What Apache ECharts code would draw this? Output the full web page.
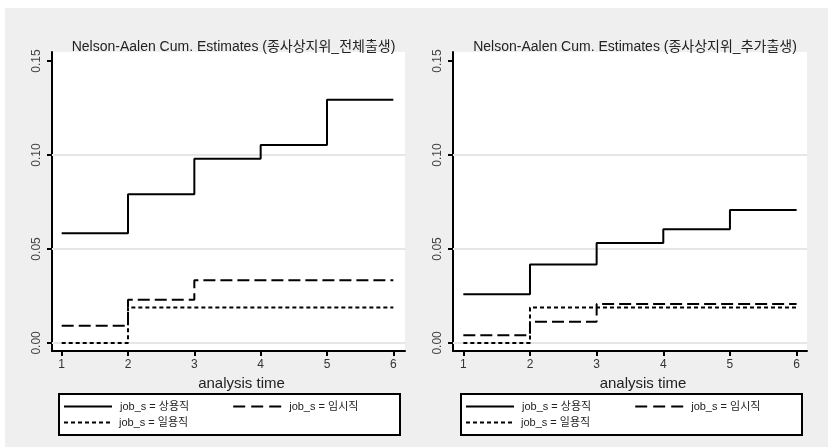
<!DOCTYPE html>
<html>
<head>
<meta charset="utf-8">
<script src="https://cdn.jsdelivr.net/npm/echarts@6/dist/echarts.min.js"></script>
<style>html,body{margin:0;padding:0;background:#fff}#c{width:828px;height:447px}</style>
</head>
<body>
<div id="c"></div>
<script>
// ---- data ----
const times = [1, 2, 3, 4, 5, 6];
const xTicks = [1, 2, 3, 4, 5, 6];
const yTicks = [0, 0.05, 0.10, 0.15];
const gridValues = [0, 0.05, 0.10];
const seriesNames = ['job_s = 상용직', 'job_s = 임시직', 'job_s = 일용직'];
const titles = ['Nelson-Aalen Cum. Estimates (종사상지위_전체출생)', 'Nelson-Aalen Cum. Estimates (종사상지위_추가출생)'];
const xTitle = 'analysis time';
// left panel (전체출생)
const leftRegular = [0.0583, 0.0791, 0.0980, 0.1053, 0.1294, 0.1294];
const leftTemp    = [0.0092, 0.0230, 0.0333, 0.0333, 0.0333, 0.0333];
const leftDaily   = [0.0000, 0.0188, 0.0188, 0.0188, 0.0188, 0.0188];
// right panel (추가출생)
const rightRegular = [0.0259, 0.0417, 0.0532, 0.0605, 0.0707, 0.0707];
const rightTemp    = [0.0041, 0.0112, 0.0207, 0.0207, 0.0207, 0.0207];
const rightDaily   = [0.0000, 0.0188, 0.0188, 0.0188, 0.0188, 0.0188];

const FONT = '"Liberation Sans", "Noto Sans CJK KR", sans-serif';
const styles = [
  {type: 'solid', width: 2},
  {type: [12, 5], width: 2},
  {type: [4, 3], width: 2}
];
const legendIcons = [
  'path://M0,0h48v2h-48z',
  'path://M0,0h12v2h-12zM18,0h12v2h-12zM36,0h12v2h-12z',
  'path://M0,0h4v2h-4zM7,0h4v2h-4zM14,0h4v2h-4zM21,0h4v2h-4zM28,0h4v2h-4zM35,0h4v2h-4zM42,0h4v2h-4z'
];
const panels = [
  {left: 52, width: 353, xmin: 0.854, xmax: 6.176, data: [leftRegular, leftTemp, leftDaily], box: 58},
  {left: 453, width: 354, xmin: 0.845, xmax: 6.156, data: [rightRegular, rightTemp, rightDaily], box: 460}
];

const grid = [], xAxis = [], yAxis = [], series = [], title = [], legend = [];
const graphic = [
  {type: 'rect', left: 5, top: 8, shape: {width: 823, height: 439}, style: {fill: '#efefef'}, z: -10}
];
panels.forEach((p, i) => {
  grid.push({left: p.left, top: 52, width: p.width, height: 299, show: true, backgroundColor: '#ffffff', borderWidth: 0});
  xAxis.push({
    type: 'value', gridIndex: i, min: p.xmin, max: p.xmax,
    axisLine: {show: true, onZero: false, lineStyle: {color: '#000', width: 2}},
    axisTick: {show: true, length: 5, lineStyle: {color: '#000', width: 2}, customValues: xTicks},
    axisLabel: {customValues: xTicks, color: '#333', fontSize: 12, fontFamily: FONT, margin: 8},
    splitLine: {show: false},
    name: xTitle, nameLocation: 'middle', nameGap: 20,
    nameTextStyle: {fontSize: 15, color: '#222', fontFamily: FONT, padding: [0, 0, 0, 26]}
  });
  yAxis.push({
    type: 'value', gridIndex: i, min: -0.0043, max: 0.1548,
    axisLine: {show: true, onZero: false, lineStyle: {color: '#000', width: 2}},
    axisTick: {show: true, length: 5, lineStyle: {color: '#000', width: 2}, customValues: yTicks},
    axisLabel: {customValues: yTicks, rotate: 90, color: '#444', fontSize: 12, fontFamily: FONT, margin: 9,
      formatter: v => v.toFixed(2)},
    splitLine: {show: false}
  });
  p.data.forEach((vals, k) => {
    const s = {
      type: 'line', name: seriesNames[k], xAxisIndex: i, yAxisIndex: i,
      data: times.map((t, j) => [t, vals[j]]),
      step: 'end', symbol: 'none', showSymbol: false, silent: true,
      lineStyle: {color: '#000', width: styles[k].width, type: styles[k].type},
      itemStyle: {color: '#000'},
      z: 5 - k
    };
    if (k === 0) {
      s.markLine = {
        silent: true, symbol: 'none', label: {show: false},
        lineStyle: {color: '#e6e6e6', width: 2, type: 'solid'},
        data: gridValues.map(v => ({yAxis: v})),
        z: 1
      };
    }
    series.push(s);
  });
  title.push({
    text: titles[i], left: p.left + p.width / 2, top: 35, textAlign: 'center',
    textStyle: {fontSize: 14, fontWeight: 'normal', color: '#222', fontFamily: FONT}
  });
  graphic.push({type: 'rect', left: p.box, top: 393, shape: {width: 341, height: 41},
    style: {fill: '#fff', stroke: '#000', lineWidth: 2}, z: 0});
  const legBase = {
    orient: 'horizontal', itemWidth: 48, itemHeight: 2, selectedMode: false, padding: 0,
    textStyle: {fontSize: 11, color: '#222', fontFamily: FONT, padding: [0, 0, 0, 3]},
    itemStyle: {color: '#000'},
    z: 10
  };
  legend.push(Object.assign({}, legBase, {left: p.box + 6, top: 401, itemGap: 44,
    data: [{name: seriesNames[0], icon: legendIcons[0]}, {name: seriesNames[1], icon: legendIcons[1]}]}));
  legend.push(Object.assign({}, legBase, {left: p.box + 6, top: 417,
    data: [{name: seriesNames[2], icon: legendIcons[2]}]}));
});

const chart = echarts.init(document.getElementById('c'), null, {renderer: 'canvas'});
chart.setOption({
  backgroundColor: '#ffffff',
  animation: false,
  title, grid, xAxis, yAxis, series, legend, graphic
});
</script>
</body>
</html>
